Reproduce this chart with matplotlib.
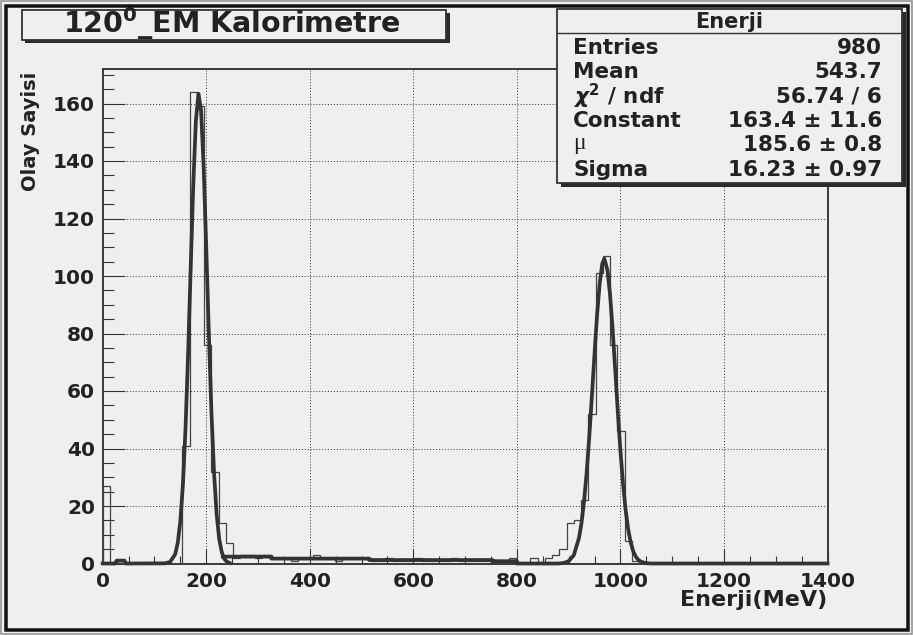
import numpy as np
import matplotlib
matplotlib.use("Agg")
import matplotlib.pyplot as plt
from matplotlib.patches import Rectangle

# ---- data ----
bin_lo, bin_hi, n_bins = 0, 1400, 100

# thin histogram, 14 MeV bins
counts = [27, 0, 1, 0, 0, 0, 0, 0, 0, 0,
          0, 41, 164, 159, 76, 32, 14, 7, 2, 3,
          3, 2, 3, 2, 2, 2, 1, 2, 2, 3,
          2, 2, 1, 2, 2, 2, 2, 1, 1, 2,
          1, 1, 1, 2, 1, 1, 1, 1, 2, 1,
          1, 1, 1, 1, 1, 0, 2, 0, 0, 2,
          0, 2, 3, 5, 14, 15, 22, 52, 101, 107,
          76, 46, 8, 1, 0, 0, 0, 0, 0, 0,
          0, 0, 0, 0, 0, 0, 0, 0, 0, 0,
          0, 0, 0, 0, 0, 0, 0, 0, 0, 0]

# thick line over the first peak (fit)
fit_x = [0, 24, 27, 42, 45, 120, 130, 140, 145, 150, 155, 160, 165, 170, 175,
         180, 185, 190, 195, 200, 205, 210, 215, 220, 225, 230, 235, 240, 245]
fit_y = [0, 0, 1, 1, 0, 0.05, 0.5, 3.2, 7.2, 14.8, 27.6, 47.1, 73.1, 103, 132,
         154, 163.4, 157.5, 138, 110, 80, 52.8, 31.7, 17.3, 8.6, 3.9, 1.6, 0.6, 0.2]

# thick line for the rest (flat part and second peak)
rest_x = [232, 326, 326, 515, 515, 753, 753, 800, 800, 880, 890, 900, 910, 920,
          925, 930, 935, 940, 945, 950, 955, 960, 965, 969, 975, 980, 985, 990,
          995, 1000, 1005, 1010, 1015, 1020, 1025, 1030, 1035, 1040, 1050, 1060, 1400]
rest_y = [2.4, 2.4, 1.7, 1.7, 1.2, 1.2, 0.8, 0.8, 0, 0, 0.17, 0.8, 2.9, 8.9,
          14.3, 22, 32.1, 44.5, 58.5, 73, 86.6, 97.5, 104.3, 106, 102, 93.5, 81.4, 67.2,
          52.7, 39.3, 27.8, 18.7, 11.9, 7.2, 4.1, 2.3, 1.2, 0.6, 0.1, 0, 0]

title = "120$^{\\mathbf{0}}$_EM Kalorimetre"
stat_header = "Enerji"
stat_names = ["Entries", "Mean", "$\\chi^{\\mathbf{2}}$ / ndf", "Constant", "\u03bc", "Sigma"]
stat_values = ["980", "543.7", "56.74 / 6", "163.4 \u00b1 11.6", "185.6 \u00b1 0.8", "16.23 \u00b1 0.97"]
xlabel = "Enerji(MeV)"
ylabel = "Olay Sayisi"

# ---- figure ----
W, H = 913, 635
bg = "#f0efed"
ink = "#222222"
plt.rcParams["font.family"] = ["DejaVu Sans"]
plt.rcParams["font.weight"] = "bold"
plt.rcParams["mathtext.fontset"] = "dejavusans"

fig = plt.figure(figsize=(W / 100, H / 100), dpi=100)
fig.patch.set_facecolor(bg)


def fx(x):
    return x / W


def fy(y):
    return 1 - y / H


ax_l, ax_r, ax_t, ax_b = 102.7, 827.5, 69, 563.5
ax = fig.add_axes([fx(ax_l), fy(ax_b), (ax_r - ax_l) / W, (ax_b - ax_t) / H])
ax.set_facecolor(bg)

edges = np.linspace(bin_lo, bin_hi, n_bins + 1)
ax.stairs(counts, edges, color="#444444", linewidth=0.9, zorder=3)
ax.plot(fit_x, fit_y, color="#333333", linewidth=2.7, clip_on=False, zorder=4,
        solid_joinstyle="round")
ax.plot(rest_x, rest_y, color="#333333", linewidth=2.7, clip_on=False, zorder=4,
        solid_joinstyle="round")

ax.set_xlim(0, 1400)
ax.set_ylim(0, 172)
ax.set_xticks(np.arange(0, 1401, 200))
ax.set_xticks(np.arange(0, 1401, 50), minor=True)
ax.set_yticks(np.arange(0, 161, 20))
ax.set_yticks(np.arange(0, 171, 5), minor=True)
ax.tick_params(axis="x", which="major", direction="in", length=10.8, width=0.8,
               pad=6, labelsize=14.5, color="#333333", labelcolor=ink)
ax.tick_params(axis="x", which="minor", direction="in", length=5.8, width=0.8,
               color="#333333")
ax.tick_params(axis="y", which="major", direction="in", length=15.8, width=0.8,
               pad=5.5, labelsize=14.5, color="#333333", labelcolor=ink)
ax.tick_params(axis="y", which="minor", direction="in", length=7.9, width=0.8,
               color="#333333")
for lab in ax.get_xticklabels() + ax.get_yticklabels():
    lab.set_fontweight("bold")

ax.grid(which="major", linestyle=(0, (1, 2.0)), linewidth=0.7, color="#333333")
ax.set_axisbelow(True)
for side in ["left", "bottom", "top", "right"]:
    ax.spines[side].set_color("#3a3a3a")
    ax.spines[side].set_linewidth(1.4)

fig.text(fx(31), fy(72), ylabel, rotation=90, ha="center", va="top",
         fontsize=14, fontweight="bold", color=ink)
fig.text(fx(827.5), fy(600), xlabel, ha="right", va="center",
         fontsize=16, fontweight="bold", color=ink)


def pave(l, t, r, b, shadow=3.5):
    fig.add_artist(Rectangle((fx(l + shadow), fy(b + shadow)), (r - l) / W, (b - t) / H,
                             transform=fig.transFigure, facecolor="#2a2a2a",
                             edgecolor="none", zorder=5))
    fig.add_artist(Rectangle((fx(l), fy(b)), (r - l) / W, (b - t) / H,
                             transform=fig.transFigure, facecolor=bg,
                             edgecolor="#333333", linewidth=1.3, zorder=6))


# title box
pave(21.7, 10, 446, 39.5)
fig.text(fx(232), fy(32.5), title, ha="center", va="baseline", fontsize=20.5,
         fontweight="bold", color=ink, zorder=7)

# stats box
pave(557, 9, 902, 183)
fig.add_artist(plt.Line2D([fx(557), fx(902)], [fy(33.3), fy(33.3)],
                          transform=fig.transFigure, color="#333333",
                          linewidth=1.0, zorder=7))
fig.text(fx(729.5), fy(21.5), stat_header, ha="center", va="center",
         fontsize=15, fontweight="bold", color=ink, zorder=7)
row_y = [47.5, 72, 96.5, 121, 145.5, 170]
for name, val, yy in zip(stat_names, stat_values, row_y):
    if name == "\u03bc":
        fig.text(fx(573), fy(yy - 2), name, ha="left", va="center", fontsize=17,
                 family=["Liberation Serif"], fontweight="normal", color=ink, zorder=7)
    else:
        fig.text(fx(573), fy(yy), name, ha="left", va="center", fontsize=15.5,
                 fontweight="bold", color=ink, zorder=7)
    fig.text(fx(882), fy(yy), val, ha="right", va="center", fontsize=15.5,
             fontweight="bold", color=ink, zorder=7)

# canvas border
for inset, lw, col in [(1, 1.5, "#8c8c8c"), (5.5, 3.5, "#111111")]:
    fig.add_artist(Rectangle((fx(inset), fy(H - inset)), (W - 2 * inset) / W,
                             (H - 2 * inset) / H, transform=fig.transFigure,
                             fill=False, edgecolor=col, linewidth=lw * 0.72, zorder=10))

fig.savefig("out.png", dpi=100, facecolor=bg)
